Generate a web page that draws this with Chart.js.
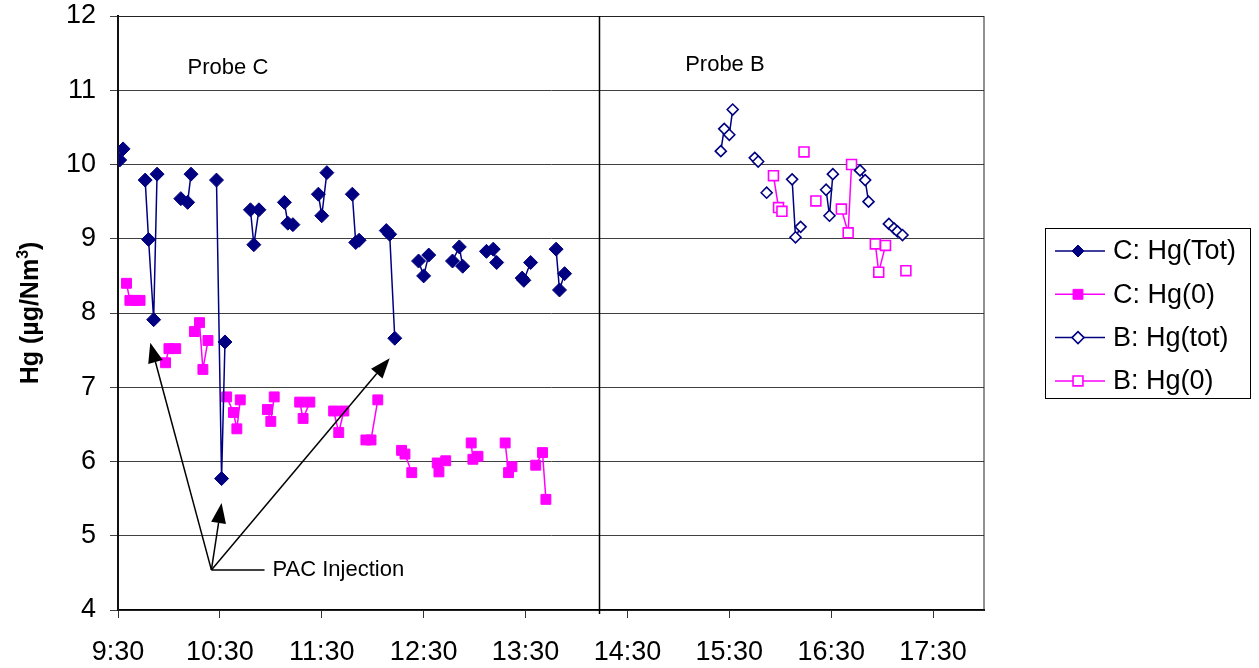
<!DOCTYPE html>
<html>
<head>
<meta charset="utf-8">
<script src="https://cdn.jsdelivr.net/npm/chart.js@4/dist/chart.umd.min.js"></script>
<style>
  html, body { margin: 0; padding: 0; background: #fff; }
</style>
</head>
<body>
<canvas id="hgChart" width="1259" height="668"></canvas>
<script>
// tick labels on the time axis
const xTickLabels = ['9:30', '10:30', '11:30', '12:30', '13:30', '14:30', '15:30', '16:30', '17:30'];

// probe C, total mercury (null = break in the line)
const cTotTime = ['9:31', '9:33', null, '9:46', '9:48', '9:51', '9:53', null, '10:07', '10:11', '10:13', null,
    '10:28', '10:31', '10:33', null, '10:48', '10:50', '10:53', null, '11:08', '11:10', '11:13', null,
    '11:28', '11:30', '11:33', null, '11:48', '11:50', '11:52', null, '12:08', '12:10', '12:13', null,
    '12:27', '12:30', '12:33', null, '12:47', '12:51', '12:53', null, '13:07', '13:11', '13:13', null,
    '13:28', '13:29', '13:33', null, '13:48', '13:50', '13:53'];
const cTot = [10.06, 10.21, null, 9.79, 8.99, 7.91, 9.87, null, 9.54, 9.49, 9.87, null,
    9.79, 5.77, 7.61, null, 9.39, 8.92, 9.39, null, 9.49, 9.21, 9.19, null,
    9.60, 9.31, 9.89, null, 9.60, 8.95, 8.98, null, 9.11, 9.06, 7.66, null,
    8.70, 8.50, 8.78, null, 8.70, 8.89, 8.63, null, 8.83, 8.86, 8.68, null,
    8.47, 8.44, 8.68, null, 8.86, 8.31, 8.53];

// probe C, elemental mercury
const c0Time = ['9:35', '9:37', '9:40', '9:43', null, '9:58', '10:00', '10:04', null, '10:15', '10:18', '10:20', '10:23', null,
    '10:34', '10:38', '10:40', '10:42', null, '10:58', '11:00', '11:02', null, '11:17', '11:19', '11:23', null,
    '11:37', '11:40', '11:43', null, '11:56', '11:59', '12:03', null, '12:17', '12:19', '12:23', null,
    '12:38', '12:39', '12:43', null, '12:58', '12:59', '13:02', null, '13:18', '13:20', '13:22', null,
    '13:36', '13:40', '13:42'];
const c0 = [8.40, 8.17, 8.17, 8.17, null, 7.33, 7.52, 7.52, null, 7.75, 7.87, 7.24, 7.63, null,
    6.87, 6.66, 6.44, 6.83, null, 6.70, 6.54, 6.87, null, 6.80, 6.58, 6.80, null,
    6.68, 6.39, 6.68, null, 6.29, 6.29, 6.83, null, 6.15, 6.10, 5.85, null,
    5.98, 5.86, 6.01, null, 6.25, 6.03, 6.07, null, 6.25, 5.85, 5.93, null,
    5.95, 6.12, 5.49];

// probe B, total mercury
const bTotTime = ['15:25', '15:27', '15:30', '15:32', null, '15:45', '15:47', null, '15:52', null,
    '16:07', '16:09', '16:12', null, '16:27', '16:29', '16:31', null, '16:47', '16:50', '16:52', null,
    '17:04', '17:07', '17:09', '17:12'];
const bTot = [10.18, 10.48, 10.40, 10.74, null, 10.09, 10.04, null, 9.62, null,
    9.80, 9.02, 9.16, null, 9.66, 9.31, 9.87, null, 9.92, 9.79, 9.50, null,
    9.20, 9.14, 9.10, 9.05];

// probe B, elemental mercury
const b0Time = ['15:56', '15:59', '16:01', null, '16:14', null, '16:21', null, '16:36', '16:40', '16:42', null,
    '16:56', '16:58', '17:02', null, '17:14'];
const b0 = [9.85, 9.42, 9.37, null, 10.17, null, 9.51, null, 9.40, 9.08, 10.00, null,
    8.93, 8.55, 8.91, null, 8.57];

// probe switch time and annotation anchors (time, Hg)
const switchTime = '14:13';
const pacFrom = ['10:25', 4.54];
const pacTo = [['9:49', 7.60], ['10:31', 5.44], ['12:10', 7.39]];
const pacTextAt = ['11:01', 4.54];
const probeLabels = [['Probe C', '10:11', 11.30], ['Probe B', '15:04', 11.34]];

const FONT = "'Liberation Sans', Arial, sans-serif";
const NAVY = '#000080';
const PINK = '#FF00FF';

function toMin(t) {
    const p = t.split(':');
    return (+p[0]) * 60 + (+p[1]);
}

function series(label, times, values, color, style, radius, filled) {
    let lastX = null;
    const pts = times.map((t, i) => {
        if (t !== null) lastX = toMin(t);
        return { x: lastX, y: values[i] };
    });
    return {
        label: label,
        data: pts,
        borderColor: color,
        borderWidth: 1.5,
        pointStyle: style,
        pointRadius: radius,
        pointBorderColor: color,
        pointBackgroundColor: filled ? color : '#fff',
        pointBorderWidth: filled ? 1 : 1.6,
        tension: 0,
        spanGaps: false,
        fill: false
    };
}

const datasets = [
    series('C: Hg(Tot)', cTotTime, cTot, NAVY, 'rectRot', 7, true),
    series('C: Hg(0)', c0Time, c0, PINK, 'rect', 7, true),
    series('B: Hg(tot)', bTotTime, bTot, NAVY, 'rectRot', 5.5, false),
    series('B: Hg(0)', b0Time, b0, PINK, 'rect', 7, false)
];

function arrow(ctx, x0, y0, x1, y1) {
    const a = Math.atan2(y1 - y0, x1 - x0);
    const len = 20, half = 7.5;
    const bx = x1 - len * Math.cos(a), by = y1 - len * Math.sin(a);
    ctx.beginPath();
    ctx.moveTo(x0, y0);
    ctx.lineTo(bx, by);
    ctx.stroke();
    ctx.beginPath();
    ctx.moveTo(x1, y1);
    ctx.lineTo(bx + half * Math.sin(a), by - half * Math.cos(a));
    ctx.lineTo(bx - half * Math.sin(a), by + half * Math.cos(a));
    ctx.closePath();
    ctx.fill();
}

const decor = {
    id: 'decor',
    afterDraw(chart) {
        const ctx = chart.ctx;
        const xs = chart.scales.x, ys = chart.scales.y;
        const area = chart.chartArea;
        const px = t => xs.getPixelForValue(toMin(t));
        const py = v => ys.getPixelForValue(v);

        ctx.save();
        // plot frame
        ctx.strokeStyle = '#222';
        ctx.lineWidth = 1;
        ctx.strokeRect(area.left, Math.round(area.top) + 0.5, area.right - area.left, area.bottom - area.top);

        // probe switch line
        const sx = Math.round(px(switchTime)) + 0.5;
        ctx.strokeStyle = '#000';
        ctx.lineWidth = 1.5;
        ctx.beginPath();
        ctx.moveTo(sx, area.top);
        ctx.lineTo(sx, area.bottom + 4);
        ctx.stroke();

        // text labels
        ctx.fillStyle = '#000';
        ctx.font = '22px ' + FONT;
        ctx.textAlign = 'left';
        ctx.textBaseline = 'middle';
        probeLabels.forEach(p => ctx.fillText(p[0], px(p[1]), py(p[2])));
        ctx.fillText('PAC Injection', px(pacTextAt[0]), py(pacTextAt[1]));

        // PAC arrows
        const ox = px(pacFrom[0]), oy = py(pacFrom[1]);
        ctx.lineWidth = 1.5;
        ctx.strokeStyle = '#000';
        ctx.beginPath();
        ctx.moveTo(ox, oy);
        ctx.lineTo(px(pacTextAt[0]) - 8, oy);
        ctx.stroke();
        pacTo.forEach(t => arrow(ctx, ox, oy, px(t[0]), py(t[1])));

        // y axis title
        ctx.save();
        ctx.translate(38, 313);
        ctx.rotate(-Math.PI / 2);
        ctx.textBaseline = 'alphabetic';
        ctx.font = 'bold 25px ' + FONT;
        const wMain = ctx.measureText('Hg (µg/Nm').width;
        const wTail = ctx.measureText(')').width;
        ctx.font = 'bold 16px ' + FONT;
        const wSup = ctx.measureText('3').width;
        const start = -(wMain + wSup + wTail) / 2;
        ctx.font = 'bold 25px ' + FONT;
        ctx.fillText('Hg (µg/Nm', start, 0);
        ctx.fillText(')', start + wMain + wSup, 0);
        ctx.font = 'bold 16px ' + FONT;
        ctx.fillText('3', start + wMain, -10);
        ctx.restore();

        // legend
        ctx.strokeStyle = '#000';
        ctx.lineWidth = 1;
        ctx.strokeRect(1045.5, 228.5, 205, 170);
        ctx.font = '27px ' + FONT;
        ctx.textBaseline = 'middle';
        chart.data.datasets.forEach((ds, i) => {
            const ly = 251 + i * 43.3;
            ctx.strokeStyle = ds.borderColor;
            ctx.lineWidth = 1.5;
            ctx.beginPath();
            ctx.moveTo(1055, ly);
            ctx.lineTo(1105, ly);
            ctx.stroke();
            ctx.fillStyle = ds.pointBackgroundColor;
            ctx.lineWidth = ds.pointBorderWidth;
            Chart.helpers.drawPoint(ctx, {
                pointStyle: ds.pointStyle,
                radius: ds.pointStyle === 'rect' ? 7 : 6,
                borderWidth: ds.pointBorderWidth,
                rotation: 0
            }, 1078, ly);
            ctx.fillStyle = '#000';
            ctx.fillText(ds.label, 1113, ly + 1);
        });
        ctx.restore();
    }
};

Chart.defaults.font.family = FONT;
Chart.defaults.color = '#000';

new Chart(document.getElementById('hgChart'), {
    type: 'line',
    data: { datasets: datasets },
    options: {
        responsive: false,
        animation: false,
        layout: { padding: { top: 16, right: 275, left: 0, bottom: 0 } },
        plugins: {
            legend: { display: false },
            tooltip: { enabled: false }
        },
        scales: {
            x: {
                type: 'linear',
                min: toMin('9:30'),
                max: toMin('18:00'),
                afterBuildTicks: s => { s.ticks = xTickLabels.map(t => ({ value: toMin(t) })); },
                afterFit: s => { s.height = 58; s.paddingLeft = 0; s.paddingRight = 0; },
                ticks: {
                    callback: (v, i) => xTickLabels[i],
                    font: { size: 27 },
                    padding: 18,
                    maxRotation: 0,
                    autoSkip: false
                },
                grid: { drawOnChartArea: false, tickLength: 8, tickColor: '#333' },
                border: { color: '#000', width: 2 }
            },
            y: {
                min: 4,
                max: 12,
                afterFit: s => { s.width = 118; s.paddingTop = 0; s.paddingBottom = 0; },
                ticks: { stepSize: 1, font: { size: 27 }, padding: 14 },
                grid: { color: '#404040', tickLength: 8, tickColor: '#404040' },
                border: { color: '#000', width: 2 }
            }
        }
    },
    plugins: [decor]
});
</script>
</body>
</html>
